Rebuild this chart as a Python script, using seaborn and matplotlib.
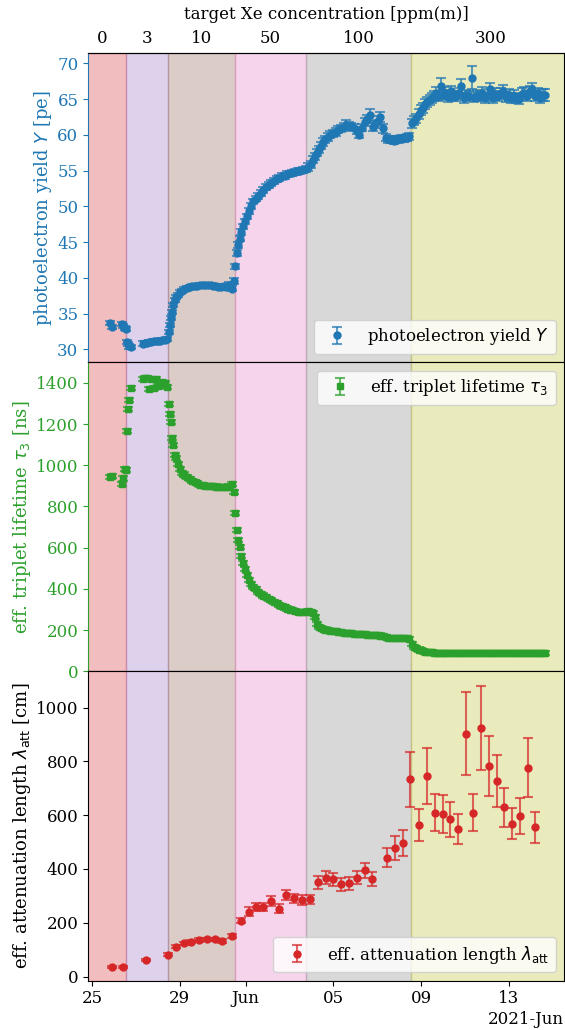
#!/usr/bin/env python3
"""Xe doping campaign: light yield, triplet lifetime and attenuation length vs. time."""

from datetime import datetime, timedelta

import matplotlib
matplotlib.use("Agg")
import matplotlib.dates as mdates
import matplotlib.pyplot as plt
import seaborn as sns

T0 = datetime(2021, 5, 25)

# measurement times of the PMT runs, days since 2021-05-25 00:00
RUN_T = [
    # 0 / 3 ppm
    0.82, 0.92, 1.36, 1.43, 1.49, 1.55, 1.60, 1.65, 1.70, 1.76,
    2.30, 2.40, 2.50, 2.60, 2.70, 2.80, 2.90, 3.00, 3.10, 3.20, 3.30, 3.40,
    # 10 ppm
    3.50, 3.55, 3.60, 3.65, 3.70, 3.76, 3.82, 3.90, 4.00, 4.10,
    4.20, 4.32, 4.44, 4.56, 4.68, 4.80, 4.92, 5.04, 5.16, 5.28,
    5.40, 5.52, 5.64, 5.76, 5.88, 6.00, 6.12, 6.24, 6.36, 6.46,
    # 50 ppm
    6.53, 6.60, 6.67, 6.74, 6.80, 6.88, 6.96, 7.05, 7.15, 7.25,
    7.35, 7.45, 7.57, 7.69, 7.81, 7.93, 8.05, 8.17, 8.29, 8.41,
    8.53, 8.65, 8.77, 8.89, 9.01, 9.13, 9.25, 9.37, 9.49, 9.61, 9.73,
    # 100 ppm
    9.85, 9.97, 10.06, 10.15, 10.24, 10.33, 10.42, 10.52, 10.63, 10.74,
    10.86, 10.98, 11.10, 11.22, 11.34, 11.46, 11.58, 11.70, 11.82, 11.94,
    12.06, 12.18, 12.30, 12.42, 12.54, 12.66, 12.78, 12.90, 13.02, 13.14,
    13.26, 13.38, 13.50, 13.62, 13.74, 13.86, 13.98, 14.10, 14.22, 14.34, 14.46,
    # 300 ppm
    14.58, 14.68, 14.78, 14.88, 14.98, 15.08, 15.18, 15.28, 15.38, 15.48,
    15.58, 15.68, 15.78, 15.88, 15.98, 16.10, 16.22, 16.34, 16.46, 16.58,
    16.70, 16.82, 16.94, 17.06, 17.18, 17.30, 17.42, 17.54, 17.66, 17.78,
    17.90, 18.02, 18.14, 18.26, 18.38, 18.50, 18.62, 18.74, 18.86, 18.98,
    19.10, 19.22, 19.34, 19.46, 19.58, 19.70, 19.82, 19.94, 20.06, 20.18,
    20.30, 20.42, 20.54, 20.64,
]

YIELD_PE = [
    33.7, 33.1, 33.5, 33.3, 33.0, 32.8, 31.0, 30.7, 30.4, 30.3,
    30.8, 30.9, 30.9, 31.0, 31.0, 31.1, 31.1, 31.2, 31.2, 31.3, 31.3, 31.4,
    32.4, 33.4, 34.4, 35.2, 36.2, 36.9, 37.3, 37.6, 38.0, 38.2,
    38.4, 38.6, 38.7, 38.8, 38.8, 38.9, 39.0, 39.0, 39.0, 39.0,
    39.0, 38.9, 38.8, 38.7, 38.7, 38.8, 38.7, 39.0, 38.5, 39.6,
    41.6, 43.5, 44.6, 45.5, 46.4, 47.2, 47.9, 48.6, 49.4, 50.1,
    50.7, 51.1, 51.5, 51.9, 52.3, 52.7, 53.0, 53.3, 53.6, 53.8,
    54.0, 54.2, 54.3, 54.5, 54.6, 54.7, 54.8, 54.9, 55.0, 55.1, 55.2,
    55.5, 55.9, 56.5, 57.0, 57.5, 58.0, 58.5, 59.0, 59.4, 59.7,
    60.0, 60.2, 60.4, 60.7, 60.9, 61.1, 61.4, 61.3, 61.2, 61.0,
    60.6, 60.0, 61.0, 61.8, 62.2, 62.8, 61.1, 61.5, 62.0, 62.5,
    60.9, 59.6, 59.4, 59.3, 59.2, 59.3, 59.4, 59.5, 59.5, 59.6, 59.8,
    61.6, 62.0, 62.3, 62.9, 63.5, 63.8, 64.3, 64.6, 64.9, 65.1,
    65.4, 65.9, 65.5, 66.8, 65.6, 65.9, 65.3, 66.1, 65.5, 65.4,
    65.8, 66.8, 65.2, 65.6, 65.4, 68.0, 65.3, 65.5, 65.4, 65.9,
    65.1, 65.6, 66.4, 65.2, 65.7, 65.4, 65.8, 66.2, 65.3, 65.6,
    65.2, 65.5, 65.2, 65.0, 65.7, 65.9, 65.4, 66.1, 66.4, 65.5,
    65.8, 65.2, 65.6, 65.6,
]

YIELD_ERR = [
    0.3, 0.3, 0.3, 0.3, 0.3, 0.3, 0.3, 0.3, 0.3, 0.3,
    0.3, 0.3, 0.3, 0.3, 0.3, 0.3, 0.3, 0.3, 0.3, 0.3, 0.3, 0.3,
    0.3, 0.3, 0.3, 0.3, 0.3, 0.3, 0.3, 0.3, 0.3, 0.3,
    0.3, 0.3, 0.3, 0.3, 0.3, 0.3, 0.3, 0.3, 0.3, 0.3,
    0.3, 0.3, 0.3, 0.3, 0.3, 0.3, 0.4, 0.4, 0.4, 0.4,
    0.4, 0.4, 0.4, 0.4, 0.4, 0.4, 0.4, 0.4, 0.4, 0.4,
    0.4, 0.4, 0.4, 0.4, 0.4, 0.4, 0.4, 0.4, 0.4, 0.4,
    0.4, 0.4, 0.4, 0.4, 0.4, 0.4, 0.4, 0.4, 0.4, 0.4, 0.4,
    0.5, 0.5, 0.5, 0.5, 0.5, 0.5, 0.5, 0.5, 0.5, 0.5,
    0.5, 0.5, 0.5, 0.5, 0.5, 0.5, 0.7, 0.5, 0.5, 0.5,
    0.5, 0.5, 0.5, 0.6, 0.6, 0.8, 0.6, 0.6, 0.6, 0.7,
    0.6, 0.5, 0.5, 0.5, 0.5, 0.5, 0.5, 0.5, 0.5, 0.5, 0.5,
    0.6, 0.6, 0.6, 0.7, 0.7, 0.7, 0.7, 0.7, 0.7, 0.7,
    0.7, 0.8, 0.7, 1.1, 0.7, 0.8, 0.7, 0.8, 0.7, 0.7,
    0.8, 1.0, 0.7, 0.7, 0.7, 1.6, 0.7, 0.8, 0.7, 0.8,
    0.7, 0.8, 0.9, 0.7, 0.8, 0.7, 0.8, 0.8, 0.7, 0.8,
    0.7, 0.8, 0.7, 0.7, 0.8, 0.8, 0.7, 0.8, 0.9, 0.7,
    0.8, 0.7, 0.8, 0.8,
]

TAU3_NS = [
    945, 950, 911, 936, 984, 976, 1166, 1271, 1316, 1376,
    1420, 1422, 1421, 1368, 1420, 1375, 1419, 1385, 1392, 1405, 1398, 1380,
    1297, 1250, 1210, 1132, 1097, 1050, 1035, 1008, 980, 962,
    955, 945, 935, 925, 918, 912, 906, 903, 901, 900,
    900, 899, 897, 896, 895, 895, 894, 897, 911, 871,
    768, 686, 637, 602, 560, 525, 498, 468, 442, 422,
    410, 398, 385, 376, 368, 360, 353, 345, 337, 330,
    322, 315, 310, 305, 300, 296, 292, 290, 289, 289, 290,
    291, 290, 285, 262, 228, 214, 209, 206, 203, 200,
    198, 196, 194, 192, 190, 188, 186, 185, 184, 183,
    182, 181, 180, 179, 178, 178, 177, 176, 175, 174,
    173, 166, 163, 162, 162, 161, 161, 161, 160, 160, 158,
    135, 120, 112, 106, 102, 99, 96, 94, 93, 92,
    91, 90, 90, 90, 89, 90, 89, 89, 90, 89,
    89, 89, 88, 89, 89, 88, 89, 88, 88, 89,
    88, 88, 89, 88, 88, 88, 89, 88, 88, 88,
    88, 89, 88, 88, 88, 88, 87, 88, 88, 88,
    88, 87, 88, 88,
]
TAU3_ERR = 10

# attenuation length fits, one per combined data set
ATT_T = [
    0.89, 1.42, 2.44, 3.44, 3.82, 4.18, 4.53, 4.88, 5.24, 5.59,
    5.94, 6.39, 6.77, 7.14, 7.47, 7.80, 8.15, 8.51, 8.85, 9.21,
    9.56, 9.94, 10.30, 10.67, 11.00, 11.36, 11.71, 12.06, 12.42, 12.77,
    13.45, 13.80, 14.15, 14.51, 14.92, 15.27, 15.62, 15.97, 16.32, 16.68,
    17.03, 17.38, 17.74, 18.09, 18.44, 18.79, 19.14, 19.49, 19.85, 20.20,
]
ATT_CM = [
    37, 37, 62, 81, 111, 124, 130, 136, 139, 139,
    132, 152, 208, 241, 258, 258, 282, 252, 303, 291,
    285, 287, 350, 368, 361, 343, 347, 368, 395, 363,
    442, 477, 498, 734, 563, 745, 610, 604, 585, 548,
    903, 609, 924, 783, 726, 629, 569, 598, 776, 555,
]
ATT_ERR = [
    4, 4, 5, 6, 6, 6, 6, 6, 6, 6,
    7, 8, 9, 16, 16, 16, 19, 17, 19, 17,
    19, 17, 23, 25, 25, 25, 25, 25, 27, 25,
    36, 45, 48, 103, 59, 105, 70, 70, 65, 56,
    155, 69, 157, 112, 97, 74, 57, 66, 110, 58,
]

# Xe concentration steps (days since start)
PHASE_EDGES = [-0.6, 1.53, 3.45, 6.5, 9.77, 14.55, 21.8]
PHASE_PPM = ["0", "3", "10", "50", "100", "300"]
PHASE_COLORS = ["tab:red", "tab:purple", "tab:brown", "tab:pink", "tab:gray", "tab:olive"]


def to_dates(days):
    return [T0 + timedelta(days=d) for d in days]


def draw_errorbar(ax, t, y, err, color, marker, label):
    eb = ax.errorbar(to_dates(t), y, yerr=err, fmt=marker, ms=5, color=color,
                     capsize=3.5, elinewidth=1.5, capthick=1.5, label=label)
    for art in list(eb[1]) + list(eb[2]):
        art.set_alpha(0.7)
    return eb


def main() -> None:
    sns.set_theme(style="ticks", context="notebook", rc={
        "font.size": 12, "axes.labelsize": 13, "xtick.labelsize": 12,
        "ytick.labelsize": 12, "legend.fontsize": 12,
        "xtick.major.size": 3.5, "ytick.major.size": 3.5,
        "xtick.major.width": 0.8, "ytick.major.width": 0.8,
        "axes.linewidth": 0.8, "axes.edgecolor": "black",
        "xtick.color": "black", "ytick.color": "black",
        "axes.labelcolor": "black", "text.color": "black",
    })
    plt.rcParams["font.family"] = ["DejaVu Serif"]
    pal = sns.color_palette("tab10")
    blue, green, red = pal[0], pal[2], pal[3]

    fig, axes = plt.subplots(3, 1, figsize=(5.65, 10.3), dpi=100, sharex=True)
    fig.subplots_adjust(left=0.156, right=0.998, top=0.9485, bottom=0.048, hspace=0)

    for ax in axes:
        for lo, hi, c in zip(PHASE_EDGES[:-1], PHASE_EDGES[1:], PHASE_COLORS):
            ax.axvspan(T0 + timedelta(days=lo), T0 + timedelta(days=hi), color=c, alpha=0.3)

    draw_errorbar(axes[0], RUN_T, YIELD_PE, YIELD_ERR, blue, "o", "photoelectron yield $Y$")
    draw_errorbar(axes[1], RUN_T, TAU3_NS, TAU3_ERR, green, "s", r"eff. triplet lifetime $\tau_3$")
    draw_errorbar(axes[2], ATT_T, ATT_CM, ATT_ERR, red, "o",
                  r"eff. attenuation length $\lambda_\mathrm{att}$")

    axes[0].set_ylim(28.2, 71.45)
    axes[0].set_yticks(range(30, 71, 5))
    axes[0].set_ylabel("photoelectron yield $Y$ [pe]", color=blue, labelpad=2)
    axes[0].tick_params(axis="y", colors=blue)
    axes[0].spines["left"].set_color(blue)
    axes[0].legend(loc="lower right", frameon=True)

    axes[1].set_ylim(0, 1500)
    axes[1].set_yticks(range(0, 1401, 200))
    axes[1].set_ylabel(r"eff. triplet lifetime $\tau_3$ [ns]", color=green, labelpad=2)
    axes[1].tick_params(axis="y", colors=green)
    axes[1].spines["left"].set_color(green)
    axes[1].legend(loc="upper right", frameon=True)

    axes[2].set_ylim(-15, 1135)
    axes[2].set_yticks(range(0, 1001, 200))
    axes[2].set_ylabel(r"eff. attenuation length $\lambda_\mathrm{att}$ [cm]", labelpad=2)
    axes[2].legend(loc="lower right", frameon=True)

    axes[2].set_xlim(T0 + timedelta(days=-0.18), T0 + timedelta(days=21.5))
    locator = mdates.DayLocator(bymonthday=[1, 5, 9, 13, 17, 21, 25, 29])
    axes[2].xaxis.set_major_locator(locator)
    axes[2].xaxis.set_major_formatter(mdates.ConciseDateFormatter(locator))

    sec = axes[0].secondary_xaxis("top")
    mids = [mdates.date2num(T0 + timedelta(days=(lo + hi) / 2))
            for lo, hi in zip(PHASE_EDGES[:-1], PHASE_EDGES[1:])]
    sec.set_xticks(mids, labels=PHASE_PPM)
    sec.tick_params(length=0, pad=4)
    sec.set_xlabel("target Xe concentration [ppm(m)]", fontsize=12, labelpad=8)

    fig.savefig("out.png", dpi=100)


if __name__ == "__main__":
    main()
